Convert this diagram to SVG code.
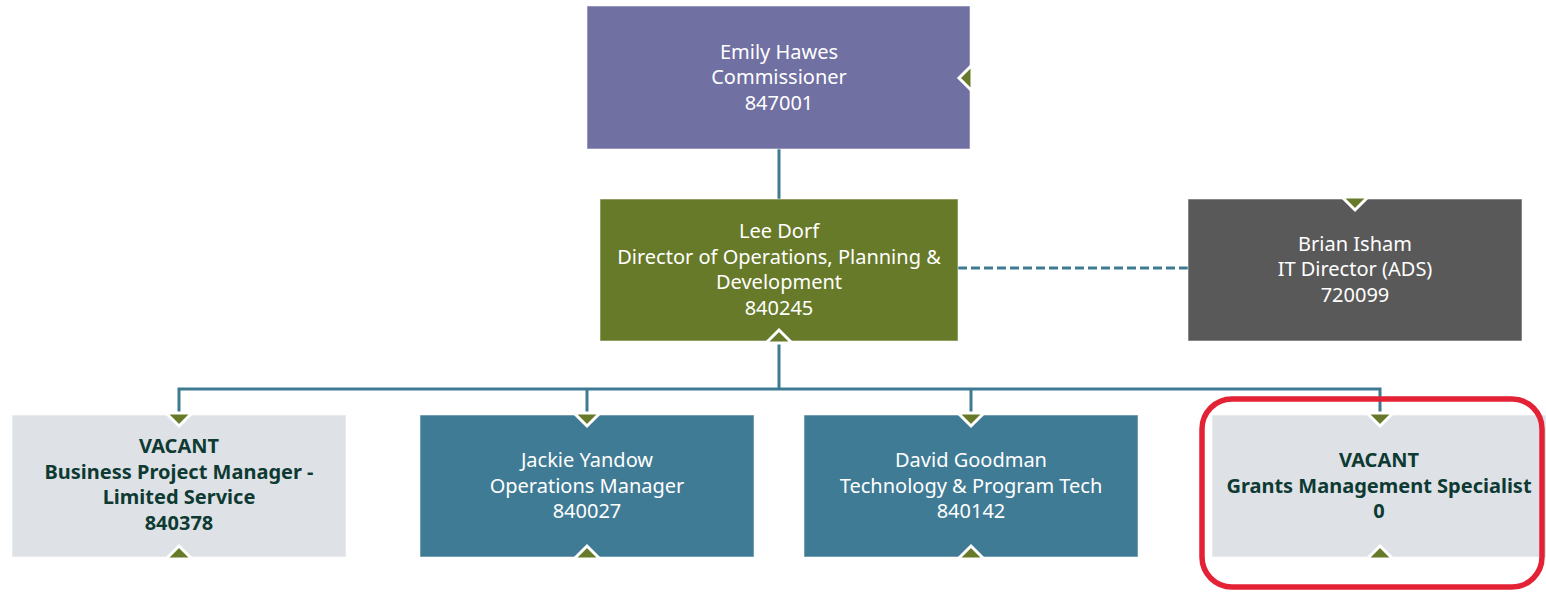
<svg xmlns="http://www.w3.org/2000/svg" width="1546" height="592" viewBox="0 0 1546 592">
  <style>
    .box { stroke: #ffffff; stroke-opacity: 0.55; stroke-width: 1; }
    .t { font-family: "Noto Sans", "Open Sans", sans-serif; font-size: 20px; text-anchor: middle; fill: #ffffff; }
    .tb { font-family: "Noto Sans", "Open Sans", sans-serif; font-size: 20px; font-weight: bold; text-anchor: middle; fill: #0e3a33; }
    .link { stroke: #3f7a93; stroke-width: 3; fill: none; }
    .dash { stroke: #3f7a93; stroke-width: 3; fill: none; stroke-dasharray: 9 4; }
    .mk { fill: #677a29; stroke: #ffffff; stroke-width: 3; stroke-linejoin: miter; }
  </style>

  <!-- connectors -->
  <g id="connectors">
    <line class="link" x1="779" y1="149" x2="779" y2="199"/>
    <line class="dash" x1="958" y1="268" x2="1188" y2="268"/>
    <polyline class="link" points="779,341 779,389"/>
    <polyline class="link" points="179,415 179,389 1380,389 1380,415"/>
    <line class="link" x1="587" y1="389" x2="587" y2="415"/>
    <line class="link" x1="971" y1="389" x2="971" y2="415"/>
  </g>

  <!-- Commissioner -->
  <g id="node-hawes">
    <rect class="box" x="587" y="6" width="383" height="143" fill="#7070a3"/>
    <text class="t" x="779" y="59">Emily Hawes</text>
    <text class="t" x="779" y="84">Commissioner</text>
    <text class="t" x="779" y="110">847001</text>
    <polygon class="mk" points="972,65 972,91 959,78"/>
  </g>

  <!-- Director -->
  <g id="node-dorf">
    <rect class="box" x="600" y="199" width="358" height="142" fill="#677a29"/>
    <text class="t" x="779" y="238">Lee Dorf</text>
    <text class="t" x="779" y="264">Director of Operations, Planning &amp;</text>
    <text class="t" x="779" y="289">Development</text>
    <text class="t" x="779" y="315">840245</text>
    <polygon class="mk" points="766,343 792,343 779,330"/>
  </g>

  <!-- IT Director -->
  <g id="node-isham">
    <rect class="box" x="1188" y="199" width="334" height="142" fill="#595959"/>
    <text class="t" x="1355" y="251">Brian Isham</text>
    <text class="t" x="1355" y="276">IT Director (ADS)</text>
    <text class="t" x="1355" y="302">720099</text>
    <polygon class="mk" points="1342,197 1368,197 1355,210"/>
  </g>

  <!-- Business Project Manager -->
  <g id="node-bpm">
    <rect class="box" x="12" y="415" width="334" height="142" fill="#dee2e6"/>
    <text class="tb" x="179" y="453">VACANT</text>
    <text class="tb" x="179" y="479">Business Project Manager -</text>
    <text class="tb" x="179" y="504">Limited Service</text>
    <text class="tb" x="179" y="530">840378</text>
    <polygon class="mk" points="166,413 192,413 179,426"/>
    <polygon class="mk" points="166,559 192,559 179,546"/>
  </g>

  <!-- Operations Manager -->
  <g id="node-yandow">
    <rect class="box" x="420" y="415" width="334" height="142" fill="#407b95"/>
    <text class="t" x="587" y="467">Jackie Yandow</text>
    <text class="t" x="587" y="493">Operations Manager</text>
    <text class="t" x="587" y="518">840027</text>
    <polygon class="mk" points="574,413 600,413 587,426"/>
    <polygon class="mk" points="574,559 600,559 587,546"/>
  </g>

  <!-- Technology & Program Tech -->
  <g id="node-goodman">
    <rect class="box" x="804" y="415" width="334" height="142" fill="#407b95"/>
    <text class="t" x="971" y="467">David Goodman</text>
    <text class="t" x="971" y="493">Technology &amp; Program Tech</text>
    <text class="t" x="971" y="518">840142</text>
    <polygon class="mk" points="958,413 984,413 971,426"/>
    <polygon class="mk" points="958,559 984,559 971,546"/>
  </g>

  <!-- Grants Management Specialist -->
  <g id="node-grants">
    <rect class="box" x="1212" y="415" width="334" height="142" fill="#dee2e6"/>
    <text class="tb" x="1379" y="467">VACANT</text>
    <text class="tb" x="1379" y="493">Grants Management Specialist</text>
    <text class="tb" x="1379" y="518">0</text>
    <polygon class="mk" points="1367,413 1393,413 1380,426"/>
    <polygon class="mk" points="1367,559 1393,559 1380,546"/>
  </g>

  <!-- highlight ring -->
  <rect x="1202" y="399" width="340" height="188" rx="30" ry="30" fill="none" stroke="#e32235" stroke-width="5.5"/>
</svg>
